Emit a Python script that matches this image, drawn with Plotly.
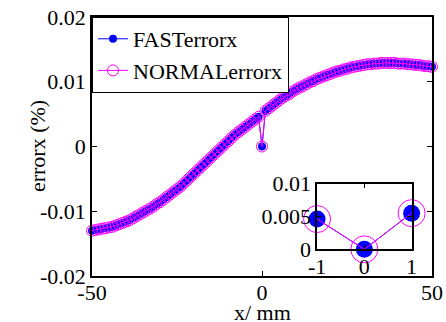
import plotly.graph_objects as go

x_mm = list(range(-50, 51))
fast_err = [
    -0.0130, -0.0129, -0.0128, -0.0127, -0.0126, -0.0125, -0.0124, -0.0122, -0.0120,
    -0.0118, -0.0116, -0.0114, -0.0111, -0.0108, -0.0105, -0.0102, -0.0099, -0.0096, -0.0093,
    -0.0089, -0.0086, -0.0082, -0.0078, -0.0074, -0.0070, -0.0066, -0.0062, -0.0057, -0.0052,
    -0.0047, -0.0042, -0.0037, -0.0032, -0.0027, -0.0022, -0.0017, -0.0012, -0.0007, -0.0002,
    0.0003, 0.0008, 0.0013, 0.0018, 0.0022, 0.0026, 0.0030, 0.0034, 0.0038, 0.0042,
    0.0046,
    0.0000,
    0.0055, 0.0059, 0.0063, 0.0067, 0.0071, 0.0075, 0.0078, 0.0081, 0.0085, 0.0088,
    0.0091, 0.0093, 0.0096, 0.0099, 0.0101, 0.0104, 0.0106, 0.0108, 0.0110, 0.0112,
    0.0114, 0.0116, 0.0117, 0.0119, 0.0120, 0.0122, 0.0123, 0.0124, 0.0125, 0.0126,
    0.0127, 0.0127, 0.0128, 0.0128, 0.0129, 0.0129, 0.0129, 0.0129, 0.0129, 0.0128,
    0.0128, 0.0128, 0.0127, 0.0127, 0.0126, 0.0126, 0.0125, 0.0124, 0.0124, 0.0123,
]
normal_err = list(fast_err)

inset_x = [-1, 0, 1]
inset_fast = [0.0046, 0.0, 0.0055]
inset_normal = [0.0046, 0.0, 0.0055]

main_yticks = [-0.02, -0.01, 0, 0.01, 0.02]
main_ylabels = ["-0.02", "-0.01", "0", "0.01", "0.02"]
main_xticks = [-50, 0, 50]
inset_yticks = [0, 0.005, 0.01]
inset_ylabels = ["0", "0.005", "0.01"]
inset_xticks = [-1, 0, 1]

FONT = "Liberation Serif"
FS = 22
BLUE = "#0000FF"
MAG = "#FF00FF"

fig = go.Figure()
fig.add_trace(go.Scatter(x=x_mm, y=fast_err, name="FASTerrorx", mode="lines+markers",
                         line=dict(color=BLUE, width=1),
                         marker=dict(symbol="circle", size=8, color=BLUE, line=dict(width=0)),
                         cliponaxis=False))
fig.add_trace(go.Scatter(x=x_mm, y=normal_err, name="NORMALerrorx", mode="lines+markers",
                         line=dict(color=MAG, width=1),
                         marker=dict(symbol="circle-open", size=11, color=MAG, line=dict(width=1)),
                         cliponaxis=False))
fig.add_trace(go.Scatter(x=inset_x, y=inset_fast, mode="lines+markers", showlegend=False,
                         xaxis="x2", yaxis="y2",
                         line=dict(color=BLUE, width=1),
                         marker=dict(symbol="circle", size=17, color=BLUE, line=dict(width=0)),
                         cliponaxis=False))
fig.add_trace(go.Scatter(x=inset_x, y=inset_normal, mode="lines+markers", showlegend=False,
                         xaxis="x2", yaxis="y2",
                         line=dict(color=MAG, width=1),
                         marker=dict(symbol="circle-open", size=27, color=MAG, line=dict(width=1)),
                         cliponaxis=False))

axis_common = dict(showgrid=False, zeroline=False, showline=True, linecolor="black", linewidth=1.5,
                   mirror="ticks", ticks="inside", ticklen=5, tickcolor="black", tickwidth=1,
                   automargin=False,
                   tickfont=dict(family=FONT, size=FS, color="black"))

fig.update_layout(
    width=446, height=322,
    margin=dict(l=92, r=14, t=17, b=46, autoexpand=False),
    paper_bgcolor="white", plot_bgcolor="white",
    font=dict(family=FONT, size=FS, color="black"),
    xaxis=dict(range=[-50, 50], tickvals=main_xticks, ticktext=[str(v) for v in main_xticks],
               ticklabelstandoff=-4, **axis_common),
    yaxis=dict(range=[-0.02, 0.02], tickvals=main_yticks, ticktext=main_ylabels, **axis_common),
    xaxis2=dict(domain=[0.662, 0.94], anchor="y2", range=[-1, 1], tickvals=inset_xticks,
                ticktext=[str(v) for v in inset_xticks], ticklabelstandoff=-3, **axis_common),
    yaxis2=dict(domain=[0.103, 0.357], anchor="x2", range=[0, 0.01], tickvals=inset_yticks,
                ticktext=inset_ylabels, **axis_common),
    legend=dict(x=0.0, y=1.0, xanchor="left", yanchor="top", bgcolor="white",
                bordercolor="black", borderwidth=1, font=dict(family=FONT, size=FS),
                tracegroupgap=0, itemwidth=30),
    showlegend=True,
    annotations=[
        dict(text="errorx (%)", xref="paper", yref="paper", x=-0.16, y=0.5,
             xanchor="center", yanchor="middle", textangle=-90, showarrow=False,
             font=dict(family=FONT, size=FS)),
        dict(text="x/ mm", xref="paper", yref="paper", x=0.5, y=-0.14,
             xanchor="center", yanchor="middle", showarrow=False,
             font=dict(family=FONT, size=FS)),
    ],
)

fig.write_html("out.html")
